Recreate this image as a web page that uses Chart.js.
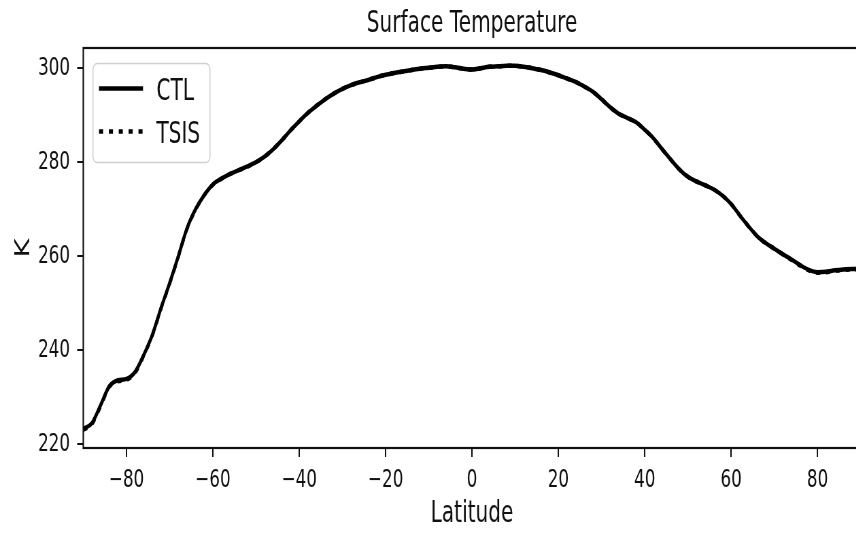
<!DOCTYPE html>
<html>
<head>
<meta charset="utf-8">
<script src="https://cdn.jsdelivr.net/npm/chart.js@4"></script>
<style>
  html, body { margin: 0; padding: 0; background: #fff; overflow: hidden; width: 856px; height: 533px; }
  /* the figure is laid out wide and squeezed horizontally */
  #wrap { position: absolute; left: 0; top: 0; width: 1280px; height: 533px; transform: scaleX(0.68); transform-origin: 0 0; }
</style>
</head>
<body>
<div id="wrap"><canvas id="c"></canvas></div>
<script>
// Zonal-mean surface temperature (K) by latitude
const latitudes = [
  -90, -88, -86, -84, -82, -80, -78, -76, -74, -72,
  -70, -68, -66, -64, -62, -60, -58, -56, -54, -52,
  -50, -48, -46, -44, -42, -40, -38, -36, -34, -32,
  -30, -28, -26, -24, -22, -20, -18, -16, -14, -12,
  -10, -8, -6, -4, -2, 0, 2, 4, 6, 8,
  10, 12, 14, 16, 18, 20, 22, 24, 26, 28,
  30, 32, 34, 36, 38, 40, 42, 44, 46, 48,
  50, 52, 54, 56, 58, 60, 62, 64, 66, 68,
  70, 72, 74, 76, 78, 80, 82, 84, 86, 88, 90
];

const ctlTemps = [
  223.3, 224.5, 228.3, 232.3, 233.6, 233.9, 235.4, 239.0, 243.3, 249.0,
  254.3, 260.0, 265.9, 270.0, 273.0, 275.3, 276.5, 277.5, 278.3, 279.1,
  280.0, 281.2, 282.8, 284.7, 286.8, 288.7, 290.5, 292.0, 293.4, 294.6,
  295.6, 296.4, 297.0, 297.5, 298.1, 298.6, 299.0, 299.3, 299.6, 299.9,
  300.1, 300.3, 300.4, 300.2, 299.9, 299.7, 300.0, 300.3, 300.4, 300.5,
  300.5, 300.3, 300.0, 299.6, 299.1, 298.5, 297.8, 297.1, 296.1, 295.0,
  293.4, 291.7, 290.3, 289.4, 288.5, 286.9, 285.1, 282.8, 280.6, 278.5,
  276.9, 275.9, 275.1, 274.2, 272.9, 271.1, 268.7, 266.4, 264.3, 262.8,
  261.6, 260.4, 259.3, 258.1, 257.1, 256.6, 256.7, 257.0, 257.2, 257.3, 257.3
];

const tsisTemps = [
  223.1, 224.3, 228.1, 232.2, 233.4, 233.7, 235.2, 238.9, 243.2, 248.9,
  254.2, 259.9, 265.8, 269.9, 273.0, 275.2, 276.5, 277.5, 278.3, 279.1,
  280.0, 281.2, 282.8, 284.7, 286.8, 288.7, 290.5, 292.0, 293.4, 294.6,
  295.6, 296.4, 297.0, 297.5, 298.1, 298.6, 299.0, 299.3, 299.6, 299.9,
  300.1, 300.3, 300.4, 300.2, 299.9, 299.7, 300.0, 300.3, 300.4, 300.5,
  300.5, 300.3, 300.0, 299.6, 299.1, 298.5, 297.8, 297.1, 296.1, 295.0,
  293.4, 291.7, 290.3, 289.4, 288.5, 286.9, 285.1, 282.8, 280.6, 278.5,
  276.9, 275.9, 275.1, 274.2, 272.9, 271.1, 268.7, 266.4, 264.3, 262.8,
  261.6, 260.4, 259.2, 258.0, 257.0, 256.5, 256.6, 256.9, 257.1, 257.2, 257.2
];

const xTicks = [-80, -60, -40, -20, 0, 20, 40, 60, 80];
const yTicks = [220, 240, 260, 280, 300];
const seriesNames = ['CTL', 'TSIS'];
const chartTitle = 'Surface Temperature';
const xTitle = 'Latitude';
const yTitle = 'K';

const FONT = 'DejaVu Sans';
const TICK_PX = 24.7;
const LABEL_PX = 29.6;
const LINE_W = 4.5;
const DOT_DASH = [6, 8.5];
const INK = '#111';

Chart.defaults.font.family = FONT;
Chart.defaults.color = INK;

const toPoints = (vals) => latitudes.map((lat, i) => ({ x: lat, y: vals[i] }));
const fmtTick = (v) => (v < 0 ? '\u2212' + Math.abs(v) : String(v));

// frame, title and boxed legend around the axes
const figureDecor = {
  id: 'figureDecor',
  afterDraw(chart) {
    const { ctx, chartArea: a } = chart;
    ctx.save();

    // axes frame
    ctx.strokeStyle = INK;
    ctx.lineWidth = 2.2;
    ctx.setLineDash([]);
    ctx.strokeRect(a.left, a.top, a.right - a.left, a.bottom - a.top);

    // title centred over the plot area
    ctx.fillStyle = INK;
    ctx.font = LABEL_PX + 'px "' + FONT + '"';
    ctx.textAlign = 'center';
    ctx.textBaseline = 'alphabetic';
    ctx.fillText(chartTitle, (a.left + a.right) / 2, 32);

    // legend box
    const bx = 136.8, by = 63.5, bw = 172, bh = 99;
    ctx.beginPath();
    ctx.roundRect(bx, by, bw, bh, 6);
    ctx.fillStyle = 'rgba(255,255,255,0.8)';
    ctx.fill();
    ctx.strokeStyle = '#d0d0d0';
    ctx.lineWidth = 1.5;
    ctx.stroke();

    const rows = [88.5, 131.5];
    chart.data.datasets.forEach((ds, i) => {
      const y = rows[i];
      ctx.beginPath();
      ctx.strokeStyle = ds.borderColor;
      ctx.lineWidth = ds.borderWidth;
      ctx.lineCap = 'butt';
      ctx.setLineDash(ds.borderDash || []);
      ctx.moveTo(145.6, y);
      ctx.lineTo(210.3, y);
      ctx.stroke();
      ctx.setLineDash([]);
      ctx.fillStyle = INK;
      ctx.textAlign = 'left';
      ctx.textBaseline = 'alphabetic';
      ctx.font = LABEL_PX + 'px "' + FONT + '"';
      ctx.fillText(ds.label, 230, y + 11);
    });

    ctx.restore();
  }
};

new Chart(document.getElementById('c'), {
  type: 'line',
  data: {
    datasets: [
      {
        label: seriesNames[0],
        data: toPoints(ctlTemps),
        borderColor: '#000',
        borderWidth: LINE_W,
        pointRadius: 0,
        cubicInterpolationMode: 'monotone',
        order: 1
      },
      {
        label: seriesNames[1],
        data: toPoints(tsisTemps),
        borderColor: '#000',
        borderWidth: LINE_W,
        borderDash: DOT_DASH,
        pointRadius: 0,
        cubicInterpolationMode: 'monotone',
        order: 0
      }
    ]
  },
  options: {
    responsive: true,
    maintainAspectRatio: false,
    animation: false,
    devicePixelRatio: 1,
    layout: { padding: { top: 48, right: 14.3, left: 0, bottom: 0 } },
    plugins: {
      legend: { display: false },
      title: { display: false },
      tooltip: { enabled: false }
    },
    scales: {
      x: {
        type: 'linear',
        min: -90,
        max: 90,
        afterBuildTicks: (s) => { s.ticks = xTicks.map((v) => ({ value: v })); },
        afterFit: (s) => { s.height = 85; },
        ticks: {
          font: { size: TICK_PX },
          color: INK,
          padding: 9,
          maxRotation: 0,
          autoSkip: false,
          callback: (v) => fmtTick(v)
        },
        grid: { drawOnChartArea: false, drawTicks: true, tickLength: 9, color: INK, lineWidth: 2 },
        border: { display: false },
        title: { display: true, text: xTitle, font: { size: LABEL_PX }, color: INK, padding: { top: 0, bottom: 1 } }
      },
      y: {
        type: 'linear',
        min: 219.2,
        max: 304.3,
        afterBuildTicks: (s) => { s.ticks = yTicks.map((v) => ({ value: v })); },
        afterFit: (s) => { s.width = 122.5; },
        ticks: {
          font: { size: TICK_PX },
          color: INK,
          padding: 10.5,
          autoSkip: false,
          callback: (v) => fmtTick(v)
        },
        grid: { drawOnChartArea: false, drawTicks: true, tickLength: 9, color: INK, lineWidth: 2 },
        border: { display: false },
        title: { display: true, text: yTitle, font: { size: LABEL_PX }, color: INK, padding: { top: 18, bottom: 0 } }
      }
    }
  },
  plugins: [figureDecor]
});
</script>
</body>
</html>
